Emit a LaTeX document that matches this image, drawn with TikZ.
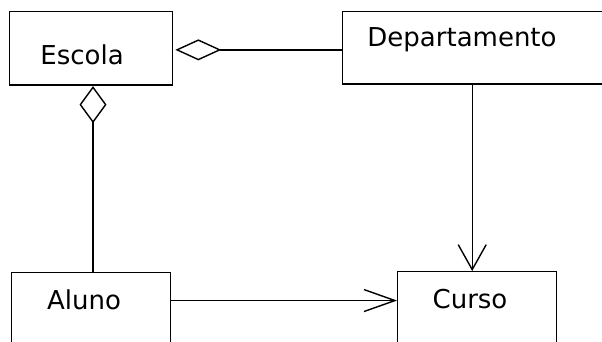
\documentclass[tikz,border=0pt]{standalone}
\usepackage{fontspec}
\setmainfont{DejaVu Sans}
\usetikzlibrary{arrows.meta}
\begin{document}
\begin{tikzpicture}[x=1pt,y=-1pt,
  classbox/.style={draw=black, line width=1.3pt, inner sep=0pt, fill=white},
  classname/.style={inner sep=0pt, anchor=base, font=\fontsize{26}{30}\selectfont},
  conn/.style={draw=black, line width=1.4pt},
  aggrh/.style={conn, {Diamond[open,length=46pt,width=21pt]}-, shorten <=2pt},
  aggrv/.style={conn, {Diamond[open,length=37pt,width=27pt]}-, shorten <=0.5pt},
  navh/.style={conn, -{Straight Barb[length=31pt,width=22pt]}},
  navv/.style={conn, -{Straight Barb[length=25pt,width=28pt]}}]
  \clip (0,0) rectangle (602,342);
  \fill[white] (0,0) rectangle (602,342);

  % class boxes (the lower and right ones run past the frame)
  \node[classbox, minimum width=163.4pt, minimum height=73.3pt] (escola) at (91,48.35) {};
  \node[classbox, minimum width=297.7pt, minimum height=72.3pt] (dept) at (491.15,47.85) {};
  \node[classbox, minimum width=159pt, minimum height=107.3pt] (aluno) at (91.2,326.35) {};
  \node[classbox, minimum width=159pt, minimum height=108.3pt] (curso) at (477.2,325.85) {};

  % class names
  \node[classname] (tescola) at (82,65) {Escola};
  \node[classname] (tdept) at (462,47) {Departamento};
  \node[classname] (taluno) at (84,309) {Aluno};
  \node[classname] (tcurso) at (470,308) {Curso};

  % aggregations
  \draw[aggrh] ([yshift=-1.5pt]escola.east) -- ([yshift=-1.5pt]escola.east -| dept.west);
  \draw[aggrv] ([xshift=2pt]escola.south) -- ([xshift=2pt]escola.south |- aluno.north);

  % navigable associations
  \draw[navv] ([xshift=-5pt]curso.north |- dept.south) -- ([xshift=-5pt]curso.north);
  \draw[navh] ([yshift=-28.5pt]aluno.north east) -- ([yshift=-28.5pt]aluno.north east -| curso.west);
\end{tikzpicture}
\end{document}
